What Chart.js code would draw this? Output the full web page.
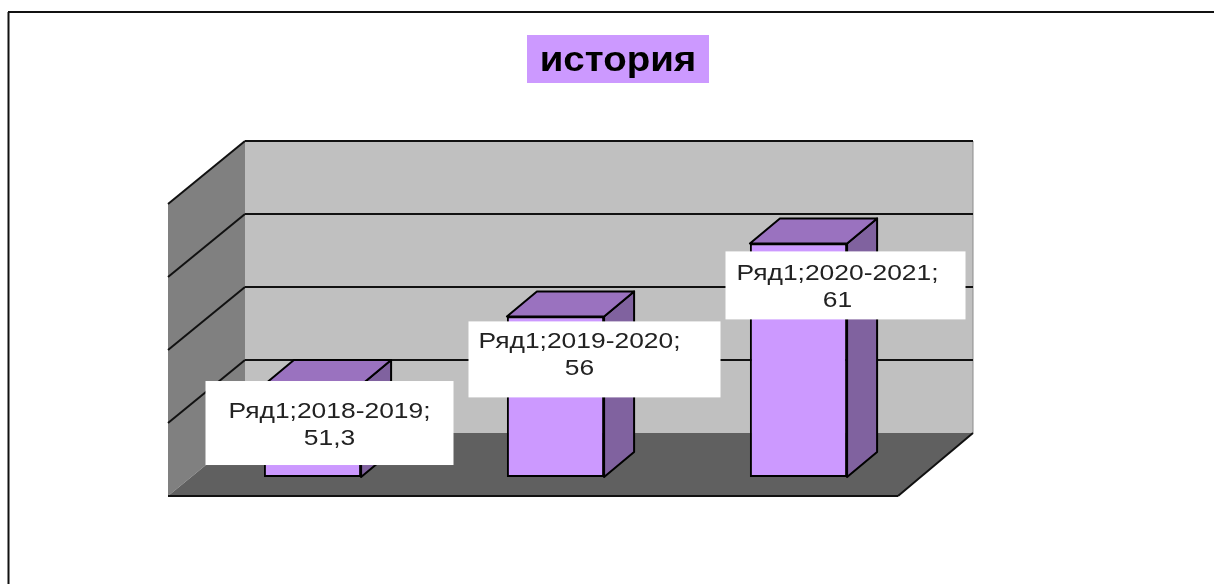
<!DOCTYPE html>
<html>
<head>
<meta charset="utf-8">
<style>
  html, body { margin: 0; padding: 0; background: #fff; overflow: hidden; }
  #wrap { width: 1214px; height: 584px; }
  #chart { filter: blur(0.4px); }
</style>
<script src="https://cdn.jsdelivr.net/npm/chart.js@4"></script>
</head>
<body>
<div id="wrap"><canvas id="chart" width="1214" height="584"></canvas></div>
<script>
const titleText = 'история'
const seriesName = 'Ряд1'
const categories = ['2018-2019', '2019-2020', '2020-2021']
const values = [51.3, 56, 61]
const valueLabels = ['51,3', '56', '61']
const yTicks = [45, 50, 55, 60, 65]

// hand placed label boxes in the original, given relative to each bar's top centre
const labelBoxes = [
  { dx: -107, dy: -4, w: 248, h: 84, textDx: 17, line1: 31, line2: 58 },
  { dx: -87, dy: 5, w: 252, h: 76, textDx: 24, line1: 21, line2: 48 },
  { dx: -73, dy: 8, w: 240, h: 68, textDx: 39, line1: 23, line2: 50 }
]

const colors = {
  backWall: '#c0c0c0',
  sideWall: '#808080',
  floor: '#606060',
  barFront: '#cc99ff',
  barTop: '#9a72bf',
  barSide: '#80629f',
  line: '#111111'
}

const poly = (ctx, pts, fill, stroke, width = 2) => {
  ctx.beginPath()
  pts.forEach((p, i) => i === 0 ? ctx.moveTo(p[0], p[1]) : ctx.lineTo(p[0], p[1]))
  ctx.closePath()
  if (fill) {
    ctx.fillStyle = fill
    ctx.fill()
  }
  if (stroke) {
    ctx.strokeStyle = stroke
    ctx.lineWidth = width
    ctx.lineJoin = 'round'
    ctx.stroke()
  }
}

const segment = (ctx, x1, y1, x2, y2, width = 2, color = colors.line) => {
  ctx.beginPath()
  ctx.moveTo(x1, y1)
  ctx.lineTo(x2, y2)
  ctx.strokeStyle = color
  ctx.lineWidth = width
  ctx.stroke()
}

// the original text is wider than the font's natural shape
const wideText = (ctx, text, x, y, stretch) => {
  ctx.save()
  ctx.translate(x, y)
  ctx.scale(stretch, 1)
  ctx.fillText(text, 0, 0)
  ctx.restore()
}

const scene = {
  id: 'scene',
  beforeDatasetsDraw: (chart) => {
    const { ctx, chartArea: area, scales: { y } } = chart
    const front = { l: area.left - 23, r: area.right - 22, b: area.bottom + 19 }
    const back = { l: area.left + 54, r: area.right + 53, b: area.bottom - 44 }
    const shiftFront = 19, shiftBack = -44
    const top = y.getPixelForValue(yTicks[yTicks.length - 1])

    ctx.save()
    // outer frame, only top and left are in the picture
    segment(ctx, 8.5, 584, 8.5, 12, 2)
    segment(ctx, 8, 12, 1214, 12, 2)

    poly(ctx, [[back.l, top + shiftBack], [back.r, top + shiftBack], [back.r, back.b], [back.l, back.b]], colors.backWall)
    poly(ctx, [[front.l, top + shiftFront], [back.l, top + shiftBack], [back.l, back.b], [front.l, front.b]], colors.sideWall)
    poly(ctx, [[front.l, front.b], [back.l, back.b], [back.r, back.b], [front.r, front.b]], colors.floor)
    segment(ctx, back.r, top + shiftBack, back.r, back.b, 1, '#8c8c8c')

    yTicks.slice(1).forEach(tick => {
      const py = y.getPixelForValue(tick)
      segment(ctx, front.l, py + shiftFront, back.l, py + shiftBack)
      segment(ctx, back.l, py + shiftBack, back.r, py + shiftBack)
    })
    segment(ctx, front.l, front.b, front.r, front.b)
    segment(ctx, front.r, front.b, back.r, back.b)

    // depth faces of the bars, the front face is the real Chart.js bar
    const dx = 30, dy = -25
    const base = y.getPixelForValue(yTicks[0])
    chart.getDatasetMeta(0).data.forEach(bar => {
      const l = bar.x - bar.width / 2, r = bar.x + bar.width / 2
      poly(ctx, [[r, bar.y], [r + dx, bar.y + dy], [r + dx, base + dy], [r, base]], colors.barSide, '#000')
      poly(ctx, [[l, bar.y], [l + dx, bar.y + dy], [r + dx, bar.y + dy], [r, bar.y]], colors.barTop, '#000')
    })
    ctx.restore()
  },
  afterDatasetsDraw: (chart) => {
    const { ctx } = chart
    ctx.save()
    ctx.textAlign = 'center'
    ctx.textBaseline = 'middle'
    ctx.font = '22px "Liberation Sans"'
    chart.getDatasetMeta(0).data.forEach((bar, i) => {
      const box = labelBoxes[i]
      const x = bar.x + box.dx, y = bar.y + box.dy
      ctx.fillStyle = '#fff'
      ctx.fillRect(x, y, box.w, box.h)
      ctx.fillStyle = '#222'
      wideText(ctx, `${seriesName};${categories[i]};`, bar.x + box.textDx, y + box.line1, 1.2)
      wideText(ctx, valueLabels[i], bar.x + box.textDx, y + box.line2, 1.2)
    })

    ctx.fillStyle = colors.barFront
    ctx.fillRect(527, 35, 182, 48)
    ctx.fillStyle = '#000'
    ctx.font = 'bold 35px "Liberation Sans"'
    wideText(ctx, titleText, 618, 61, 1.1)
    ctx.restore()
  }
}

new Chart(document.getElementById('chart'), {
  type: 'bar',
  data: {
    labels: categories,
    datasets: [{
      label: seriesName,
      data: values,
      base: yTicks[0],
      backgroundColor: colors.barFront,
      borderColor: '#000',
      borderWidth: 2,
      borderSkipped: false,
      barPercentage: 0.4,
      categoryPercentage: 1
    }]
  },
  options: {
    responsive: false,
    animation: false,
    layout: { padding: { left: 191, right: 294, top: 185, bottom: 107 } },
    scales: {
      x: { display: false },
      y: { display: false, min: yTicks[0], max: yTicks[yTicks.length - 1], ticks: { stepSize: 5 } }
    },
    plugins: {
      legend: { display: false },
      tooltip: { enabled: false }
    }
  },
  plugins: [scene]
})
</script>
</body>
</html>
